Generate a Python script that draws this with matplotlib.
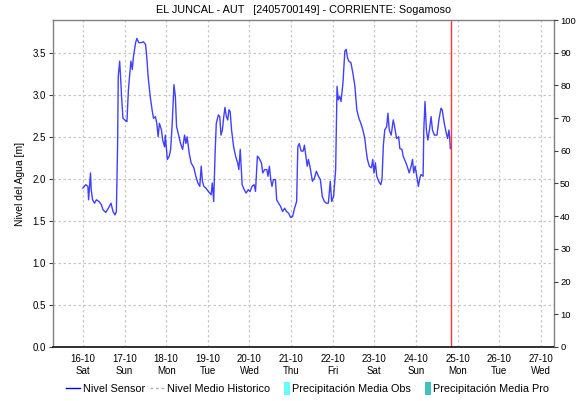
import matplotlib.pyplot as plt
from matplotlib.lines import Line2D
from matplotlib.patches import Patch, Rectangle
from matplotlib.legend_handler import HandlerPatch

plt.rcParams['font.family'] = ['Liberation Sans', 'DejaVu Sans']

# hours since 16-10 00:00 and sensor level [m]
hours = [0.0, 1.7, 2.9, 3.3, 4.4, 4.8, 5.6, 6.7, 7.8, 9.3, 10.7, 11.6, 13.2, 14.7,
         16.2, 17.4, 18.5, 19.3, 20.0, 20.4, 21.2, 21.6, 22.3, 23.1, 24.2, 25.4,
         26.2, 26.9, 27.7, 28.5, 29.2, 30.4, 31.1, 32.2, 33.8, 34.9, 36.1, 36.8,
         37.6, 38.8, 39.9, 40.7, 41.8, 42.6, 43.4, 44.1, 45.3, 46.0, 47.1, 47.5,
         48.7, 49.8, 50.6, 51.4, 52.5, 53.3, 54.0, 55.2, 56.3, 57.5, 58.6, 59.4,
         60.1, 61.3, 62.4, 64.0, 65.1, 66.3, 67.4, 68.2, 68.9, 69.7, 70.9, 72.3,
         73.9, 74.6, 75.4, 76.2, 76.9, 78.1, 78.9, 79.6, 80.4, 81.2, 81.9, 82.7,
         83.5, 84.2, 84.9, 85.7, 86.9, 88.0, 89.2, 89.9, 90.7, 91.1, 91.8, 93.0,
         94.1, 95.3, 96.4, 97.5, 98.7, 99.5, 100.6, 101.4, 102.9, 103.7, 104.8,
         106.0, 106.7, 107.5, 108.3, 109.0, 109.8, 111.0, 111.7, 112.8, 114.0,
         115.1, 116.3, 117.4, 118.6, 119.7, 120.9, 122.0, 123.2, 123.9, 124.7,
         125.8, 127.0, 127.7, 128.5, 129.3, 130.0, 131.2, 132.3, 133.5, 134.6,
         135.8, 136.9, 138.0, 139.2, 140.3, 141.5, 142.6, 143.4, 144.5, 145.7,
         146.5, 147.2, 148.0, 148.8, 149.9, 151.0, 151.8, 152.5, 153.3, 154.5,
         155.6, 156.8, 157.9, 159.1, 160.2, 161.4, 162.5, 163.2, 164.0, 165.1,
         166.3, 167.1, 167.8, 168.6, 169.4, 170.5, 171.7, 172.4, 173.2, 174.0,
         175.1, 175.8, 176.6, 177.7, 178.9, 179.7, 180.8, 182.0, 182.7, 183.9,
         184.6, 185.8, 186.9, 188.1, 189.2, 190.0, 190.7, 191.5, 192.3, 193.4,
         194.2, 194.9, 196.1, 196.5, 197.2, 198.0, 198.8, 199.9, 200.7, 201.5,
         202.6, 204.1, 205.2, 206.4, 207.1, 208.3, 209.5, 210.2, 211.0, 211.4,
         211.8]
nivel = [1.89, 1.93, 1.91, 1.75, 2.07, 1.87, 1.75, 1.71, 1.75, 1.73, 1.69, 1.63,
         1.60, 1.65, 1.71, 1.61, 1.57, 1.61, 2.38, 3.22, 3.40, 3.26, 2.98, 2.72,
         2.70, 2.68, 3.04, 3.22, 3.40, 3.30, 3.46, 3.62, 3.67, 3.62, 3.62, 3.63,
         3.60, 3.46, 3.22, 2.98, 2.82, 2.72, 2.74, 2.66, 2.50, 2.66, 2.58, 2.46,
         2.38, 2.52, 2.23, 2.27, 2.35, 2.62, 3.12, 2.98, 2.62, 2.52, 2.42, 2.35,
         2.52, 2.42, 2.50, 2.30, 2.19, 2.13, 2.03, 1.95, 1.91, 2.15, 1.97, 1.91,
         1.89, 1.85, 1.81, 1.95, 1.73, 2.30, 2.66, 2.76, 2.74, 2.52, 2.58, 2.74,
         2.85, 2.74, 2.70, 2.82, 2.80, 2.58, 2.38, 2.27, 2.19, 2.11, 2.35, 2.19,
         1.93, 1.87, 1.83, 1.87, 1.85, 1.91, 1.93, 1.85, 2.27, 2.25, 2.19, 2.07,
         2.11, 2.11, 2.03, 2.15, 1.99, 1.91, 1.99, 1.99, 1.75, 1.71, 1.67, 1.61,
         1.65, 1.61, 1.59, 1.54, 1.55, 1.65, 1.73, 2.38, 2.42, 2.33, 2.33, 2.40,
         2.27, 2.15, 2.23, 2.11, 1.97, 2.01, 2.09, 2.03, 1.99, 1.79, 1.73, 1.71,
         1.71, 1.97, 1.73, 1.79, 2.11, 3.10, 2.94, 2.98, 2.92, 3.14, 3.52, 3.54,
         3.44, 3.40, 3.38, 3.26, 3.10, 2.82, 2.72, 2.66, 2.58, 2.48, 2.35, 2.23,
         2.15, 2.13, 2.23, 2.07, 2.19, 2.03, 1.97, 1.93, 1.99, 2.40, 2.58, 2.62,
         2.78, 2.58, 2.52, 2.70, 2.62, 2.48, 2.50, 2.36, 2.35, 2.27, 2.21, 2.15,
         2.07, 2.15, 2.23, 2.07, 2.15, 2.05, 1.91, 2.01, 2.05, 2.03, 2.58, 2.92,
         2.58, 2.46, 2.60, 2.74, 2.58, 2.52, 2.52, 2.70, 2.84, 2.82, 2.66, 2.54,
         2.48, 2.58, 2.50, 2.36]

day_labels = ['16-10', '17-10', '18-10', '19-10', '20-10', '21-10',
              '22-10', '23-10', '24-10', '25-10', '26-10', '27-10']
weekday_labels = ['Sat', 'Sun', 'Mon', 'Tue', 'Wed', 'Thu',
                  'Fri', 'Sat', 'Sun', 'Mon', 'Tue', 'Wed']
now_hour = 212.0
pct_max = 100
level_at_90pct = 3.5

fig = plt.figure(figsize=(5.77, 4.01), dpi=100)
ax = fig.add_axes([0.091, 0.135, 0.869, 0.815])

ax.plot(hours, nivel, color='#0000ff', lw=1.0, alpha=0.75)
ax.axvline(now_hour, color='#ff3333', lw=1.0)

ax.set_xlim(-17.5, 271.5)
ymax = level_at_90pct / 0.9
ax.set_ylim(0, ymax)

day_ticks = [24 * i for i in range(len(day_labels))]
ax.set_xticks(day_ticks)
ax.set_xticklabels([d + '\n' + w for d, w in zip(day_labels, weekday_labels)],
                   fontsize=7, linespacing=1.25)
ax.set_yticks([0.5 * i for i in range(8)])
ax.set_yticklabels(['%.1f' % (0.5 * i) for i in range(8)], fontsize=7)
ax.tick_params(axis='x', length=0, pad=5)
ax.tick_params(axis='y', length=3, width=0.8, color='#404040', pad=2)
ax.grid(True, color='#c8c8c8', linestyle=(0, (2, 2)), lw=0.9)
ax.set_ylabel('Nivel del Agua [m]', fontsize=7.5, labelpad=5)

for side in ['top', 'left', 'right']:
    ax.spines[side].set_color('#808080')
    ax.spines[side].set_linewidth(1.0)
ax.spines['bottom'].set_color('#202020')
ax.spines['bottom'].set_linestyle((0, (1, 1)))
ax.spines['bottom'].set_linewidth(1.3)

ax2 = ax.twinx()
ax2.set_ylim(0, pct_max)
ax2.set_yticks(range(0, 101, 10))
ax2.set_yticklabels([str(v) for v in range(0, 101, 10)], fontsize=6.8)
ax2.tick_params(axis='y', length=3, width=0.8, color='#404040', pad=1.5)
for side in ['top', 'left', 'right', 'bottom']:
    ax2.spines[side].set_visible(False)

ax.set_title('EL JUNCAL - AUT   [2405700149] - CORRIENTE: Sogamoso',
             fontsize=7.8, pad=5)


def narrow_patch(legend, orig_handle, xdescent, ydescent, width, height, fontsize):
    return Rectangle((-xdescent + width * 0.6, -ydescent - height * 0.35),
                     width * 0.4, height * 1.7)


handles = [Line2D([], [], color='#0000ff', lw=1.0),
           Line2D([], [], color='#b0b0b0', lw=1.0, linestyle=(0, (2, 2))),
           Patch(facecolor='#66ffff', edgecolor='none'),
           Patch(facecolor='#40c0c0', edgecolor='none')]
labels = ['Nivel Sensor', 'Nivel Medio Historico',
          'Precipitación Media Obs', 'Precipitación Media Pro']
fig.legend(handles, labels, loc='center', bbox_to_anchor=(0.533, 0.03),
           ncol=4, frameon=False, fontsize=7.8, handlelength=1.35,
           handletextpad=0.2, columnspacing=0.5,
           handler_map={Patch: HandlerPatch(patch_func=narrow_patch)})

fig.savefig('out.png', dpi=100)
